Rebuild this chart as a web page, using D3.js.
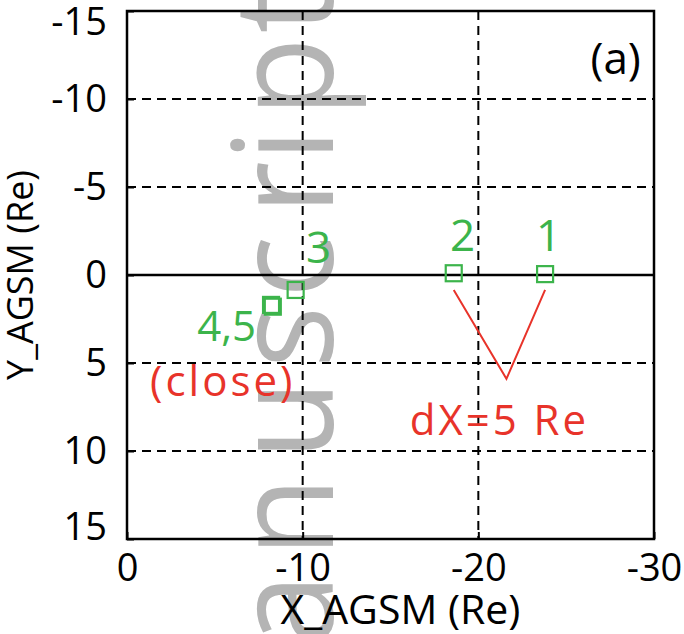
<!DOCTYPE html>
<html>
<head>
<meta charset="utf-8">
<script src="https://cdn.jsdelivr.net/npm/d3@7"></script>
<style>
  body { margin: 0; background: #fff; }
  svg { display: block; font-family: "Open Sans", sans-serif; }
  .axis path, .axis line { stroke: #000; stroke-width: 2; }
  .axis text { fill: #000; font-size: 38px; font-family: "Open Sans", sans-serif; }
</style>
</head>
<body>
<div id="chart"></div>
<script>
// spacecraft positions in the X-Y AGSM plane (Re)
const probes = ["1", "2", "3", "4", "5"];
const xPos = [-23.8, -18.6, -9.6, -8.3, -8.2];
const yPos = [-0.05, -0.1, 0.85, 1.8, 1.7];

const xTicks = [0, -10, -20, -30];
const yTicks = [-15, -10, -5, 0, 5, 10, 15];
const xGrid = [-10, -20];
const yGrid = [-10, -5, 5, 10];

// red "V" showing dX between probes 1 and 2
const vX = [-18.6, -21.6, -23.8];
const vY = [0.85, 5.9, 0.85];

// annotation labels (data coords)
const greenLabels = ["1", "2", "3", "4,5"];
const greenX = [-24.0, -19.1, -10.9, -7.35];
const greenY = [-1.36, -1.36, -0.68, 3.75];
const redLabels = ["(close)", "dX=5 Re"];
const redX = [-5.45, -21.2];
const redY = [6.9, 9.1];

const width = 684, height = 634;
const green = "#3cb44b", red = "#e8332a";

const svg = d3.select("#chart").append("svg")
  .attr("width", width)
  .attr("height", height);

const x = d3.scaleLinear().domain([0, -30]).range([127, 654]);
const y = d3.scaleLinear().domain([-15, 15]).range([11, 539]);

// background watermark (letters spaced like the scanned page)
const wmChars = "anuscript".split("");
const wmCenter = [610, 517, 420, 337, 267, 188, 145, 77, 10];
const wm = svg.append("text")
  .attr("transform", "translate(333, 0) rotate(-90) scale(1, 1.07)")
  .attr("font-size", 130)
  .attr("fill", "#b4b4b4");
wm.selectAll("tspan")
  .data(wmChars).enter().append("tspan")
  .attr("x", (d, i) => -wmCenter[i])
  .attr("y", 0)
  .attr("text-anchor", "middle")
  .text(d => d);

// grid
svg.append("g").selectAll("line")
  .data(xGrid).enter().append("line")
  .attr("x1", d => x(d)).attr("x2", d => x(d))
  .attr("y1", y(-15)).attr("y2", y(15))
  .attr("stroke", "#000").attr("stroke-width", 2)
  .attr("stroke-dasharray", "9,6");

svg.append("g").selectAll("line")
  .data(yGrid).enter().append("line")
  .attr("x1", x(0)).attr("x2", x(-30))
  .attr("y1", d => y(d)).attr("y2", d => y(d))
  .attr("stroke", "#000").attr("stroke-width", 2)
  .attr("stroke-dasharray", "9,6");

// Y = 0 line
svg.append("line")
  .attr("x1", x(0)).attr("x2", x(-30))
  .attr("y1", y(0)).attr("y2", y(0))
  .attr("stroke", "#000").attr("stroke-width", 2.5);

// axes
const fmt = d => String(d);

svg.append("g")
  .attr("class", "axis")
  .attr("transform", `translate(0, ${y(15)})`)
  .call(d3.axisBottom(x).tickValues(xTicks).tickFormat(fmt).tickSize(-7).tickPadding(15))
  .call(g => g.select(".domain").remove());

const yAxis = svg.append("g")
  .attr("class", "axis")
  .attr("transform", `translate(${x(0)}, 0)`)
  .call(d3.axisLeft(y).tickValues(yTicks).tickFormat(fmt).tickSize(-7).tickPadding(20))
  .call(g => g.select(".domain").remove());

// end labels pulled inside like the original
yAxis.selectAll(".tick text")
  .attr("dy", d => d === -15 ? "0.62em" : d === 15 ? "0.02em" : "0.32em");

// frame
svg.append("rect")
  .attr("x", x(0)).attr("y", y(-15))
  .attr("width", x(-30) - x(0))
  .attr("height", y(15) - y(-15))
  .attr("fill", "none")
  .attr("stroke", "#000")
  .attr("stroke-width", 2.5);

// V annotation
svg.append("path")
  .datum(d3.zip(vX, vY))
  .attr("d", d3.line().x(d => x(d[0])).y(d => y(d[1])))
  .attr("fill", "none")
  .attr("stroke", red)
  .attr("stroke-width", 2);

// probe markers
const sq = 16;
svg.append("g").selectAll("rect")
  .data(probes).enter().append("rect")
  .attr("x", (d, i) => x(xPos[i]) - sq / 2)
  .attr("y", (d, i) => y(yPos[i]) - sq / 2)
  .attr("width", sq).attr("height", sq)
  .attr("fill", "none")
  .attr("stroke", green)
  .attr("stroke-width", 2.2);

// labels
svg.append("g").selectAll("text")
  .data(greenLabels).enter().append("text")
  .attr("x", (d, i) => x(greenX[i]))
  .attr("y", (d, i) => y(greenY[i]))
  .attr("text-anchor", d => d === "4,5" ? "end" : "middle")
  .attr("font-size", d => d === "4,5" ? 42 : 44)
  .attr("fill", green)
  .text(d => d);

svg.append("g").selectAll("text")
  .data(redLabels).enter().append("text")
  .attr("x", (d, i) => x(redX[i]))
  .attr("y", (d, i) => y(redY[i]))
  .attr("text-anchor", "middle")
  .attr("font-size", 42)
  .attr("letter-spacing", 3)
  .attr("fill", red)
  .text(d => d);

svg.append("text")
  .attr("x", x(-29.25))
  .attr("y", y(-11.4))
  .attr("text-anchor", "end")
  .attr("font-size", 44)
  .attr("fill", "#000")
  .text("(a)");

// axis titles
svg.append("text")
  .attr("x", (x(0) + x(-30)) / 2 + 10)
  .attr("y", 624)
  .attr("text-anchor", "middle")
  .attr("font-size", 41)
  .text("X_AGSM (Re)");

svg.append("text")
  .attr("transform", `translate(33, ${(y(-15) + y(15)) / 2}) rotate(-90)`)
  .attr("text-anchor", "middle")
  .attr("font-size", 36)
  .text("Y_AGSM (Re)");
</script>
</body>
</html>
